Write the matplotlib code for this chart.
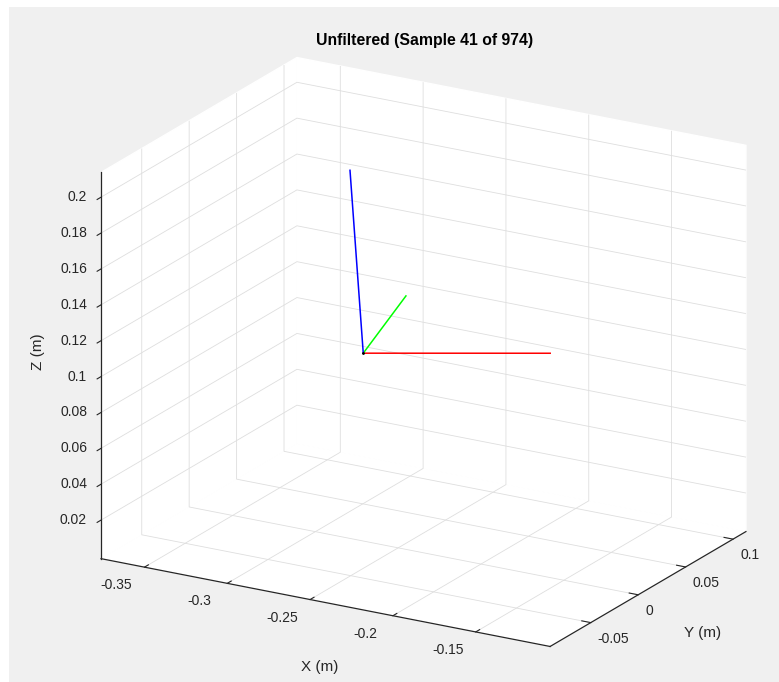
import matplotlib
matplotlib.use('Agg')
import matplotlib.pyplot as plt
import numpy as np
from matplotlib.patches import Rectangle
from mpl_toolkits.mplot3d import proj3d

plt.rcParams['font.family'] = ['Liberation Sans', 'DejaVu Sans']
plt.rcParams['axes.unicode_minus'] = False
plt.rcParams['grid.color'] = '#dedede'
plt.rcParams['grid.linewidth'] = 0.6

title = 'Unfiltered (Sample 41 of 974)'

# axis limits (m)
x_lim = [-0.3762, -0.1051]
y_lim = [-0.0929, 0.1136]
z_lim = [-0.0015, 0.2138]

x_ticks = [-0.35, -0.3, -0.25, -0.2, -0.15]
x_tick_labels = ['-0.35', '-0.3', '-0.25', '-0.2', '-0.15']
y_ticks = [-0.05, 0, 0.05, 0.1]
y_tick_labels = ['-0.05', '0', '0.05', '0.1']
z_ticks = [0.02, 0.04, 0.06, 0.08, 0.1, 0.12, 0.14, 0.16, 0.18, 0.2]
z_tick_labels = ['0.02', '0.04', '0.06', '0.08', '0.1', '0.12', '0.14', '0.16', '0.18', '0.2']

# body frame at this sample: origin and the tips of its three axes (m)
origin = [-0.2711, 0.0, 0.1032]
x_tip = [-0.1864, 0.0492, 0.1032]
y_tip = [-0.3015, 0.0981, 0.0992]
z_tip = [-0.2791, 0.0, 0.2037]

W, H = 779, 682
dark = '#262626'
fig = plt.figure(figsize=(W / 100, H / 100), dpi=100, facecolor='white')
fig.patches.append(Rectangle((9 / W, 0), 1 - 9 / W, 1 - 7 / H, transform=fig.transFigure,
                             facecolor='#f0f0f0', edgecolor='none', zorder=-10))

ax = fig.add_axes([0, 0, 1, 1], projection='3d', proj_type='ortho')
ax.set_facecolor((0, 0, 0, 0))
ax.view_init(elev=19.8, azim=-60)
ax.set_box_aspect((518.1, 391.4, 410.2))

for tip, col in [(x_tip, '#ff0000'), (y_tip, '#00ff00'), (z_tip, '#0000ff')]:
    ax.plot([origin[0], tip[0]], [origin[1], tip[1]], [origin[2], tip[2]], color=col, lw=1.1)
ax.plot([origin[0]], [origin[1]], [origin[2]], 'k.', ms=2)

ax.set_xlim(x_lim)
ax.set_ylim(y_lim)
ax.set_zlim(z_lim)
# tick labels are written below as text, placed like MATLAB does
ax.set_xticks(x_ticks, [''] * len(x_ticks))
ax.set_yticks(y_ticks, [''] * len(y_ticks))
ax.set_zticks(z_ticks, [''] * len(z_ticks))
ax.zaxis.set_ticks_position('lower')

for axis in (ax.xaxis, ax.yaxis, ax.zaxis):
    axis.set_pane_color((1, 1, 1, 1))
    axis.pane.set_edgecolor('white')
    axis.line.set_color(dark)
    axis.line.set_linewidth(0.9)
    axis._axinfo['tick']['inward_factor'] = 0.0
    axis._axinfo['tick']['outward_factor'] = 0.25
    axis.set_tick_params(colors=dark, width=0.7)
# z ticks sit on the non-default edge, so flip them to point out of the box
ax.zaxis._axinfo['tick']['outward_factor'] = -0.25

# fit the drawn box onto the region it takes in the picture
fig.canvas.draw()
cx, cy, cz = np.meshgrid(x_lim, y_lim, z_lim)
px, py, _ = proj3d.proj_transform(cx.ravel(), cy.ravel(), cz.ravel(), ax.get_proj())
pix = ax.transData.transform(np.column_stack([px, py]))
w0 = pix[:, 0].max() - pix[:, 0].min()
h0 = pix[:, 1].max() - pix[:, 1].min()
bc = np.array([(pix[:, 0].max() + pix[:, 0].min()) / 2, (pix[:, 1].max() + pix[:, 1].min()) / 2])
pos = ax.get_position()
side0 = pos.width * W
ac = np.array([(pos.x0 + pos.width / 2) * W, (pos.y0 + pos.height / 2) * H])
target_w, target_h = 745.7 - 101.3, 646.7 - 57.3
target_c = np.array([(745.7 + 101.3) / 2, H - (646.7 + 57.3) / 2])
s = (target_w / w0 + target_h / h0) / 2
side = side0 * s
nc = target_c - (bc - ac) * s
ax.set_position([(nc[0] - side / 2) / W, (nc[1] - side / 2) / H, side / W, side / H])
fig.canvas.draw()


def to_pixels(xs, ys, zs):
    n = max(len(xs), len(ys), len(zs))
    xs, ys, zs = [np.broadcast_to(np.asarray(v, float), n) for v in (xs, ys, zs)]
    qx, qy, _ = proj3d.proj_transform(xs, ys, zs, ax.get_proj())
    return ax.transData.transform(np.column_stack([qx, qy]))


tick_font = dict(fontsize=10, color=dark)
for (tx, ty), lab in zip(to_pixels(x_ticks, [y_lim[0]], [z_lim[0]]), x_tick_labels):
    fig.text((tx - 28) / W, (ty - 18) / H, lab, ha='center', va='center', **tick_font)
for (tx, ty), lab in zip(to_pixels([x_lim[1]], y_ticks, [z_lim[0]]), y_tick_labels):
    fig.text((tx + 7) / W, (ty - 16) / H, lab, ha='left', va='center', **tick_font)
for (tx, ty), lab in zip(to_pixels([x_lim[0]], [y_lim[0]], z_ticks), z_tick_labels):
    fig.text((tx - 14) / W, ty / H, lab, ha='right', va='center', **tick_font)

fig.text(425 / W, 1 - 40 / H, title, ha='center', va='center', fontsize=11.3, fontweight='bold', color='black')
fig.text(320 / W, 1 - 667 / H, 'X (m)', ha='center', va='center', fontsize=11, color=dark)
fig.text(703 / W, 1 - 633 / H, 'Y (m)', ha='center', va='center', fontsize=11, color=dark)
fig.text(38 / W, 1 - 352 / H, 'Z (m)', ha='center', va='center', fontsize=11, color=dark, rotation=90)

fig.savefig('out.png', dpi=100, facecolor=fig.get_facecolor())
